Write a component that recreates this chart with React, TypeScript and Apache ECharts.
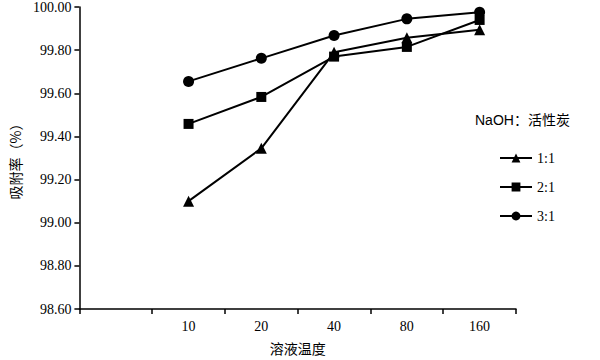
import React, { useEffect, useRef } from "react";
import * as echarts from "echarts";

const categories = ["", "10", "20", "40", "80", "160"];
const series11 = [null, 99.1, 99.345, 99.79, 99.857, 99.895];
const series21 = [null, 99.458, 99.583, 99.77, 99.815, 99.94];
const series31 = [null, 99.655, 99.762, 99.868, 99.945, 99.976];
const seriesNames = ["1:1", "2:1", "3:1"];
const symbols = ["triangle", "rect", "circle"];

export default function App() {
  const ref = useRef<HTMLDivElement>(null);
  useEffect(() => {
    const chart = echarts.init(ref.current!, null, { renderer: "svg" });
    const datasets = [series11, series21, series31];
    const serif = "'Liberation Serif', 'Times New Roman', serif";
    const cjk = "'Noto Sans CJK SC', sans-serif";
    chart.setOption({
      animation: false,
      backgroundColor: "#fff",
      grid: { left: 71, right: 84, top: 7, bottom: 49 },
      xAxis: {
        type: "category",
        data: categories,
        boundaryGap: true,
        axisLine: { lineStyle: { color: "#000", width: 1.5 } },
        axisTick: { show: true, inside: false, length: 5, lineStyle: { color: "#000", width: 1.5 } },
        axisLabel: { color: "#000", fontFamily: serif, fontSize: 14, margin: 10 },
        splitLine: { show: false },
        name: "溶液温度",
        nameLocation: "middle",
        nameGap: 32,
        nameTextStyle: { color: "#000", fontFamily: cjk, fontSize: 14 },
      },
      yAxis: {
        type: "value",
        min: 98.6,
        max: 100,
        interval: 0.2,
        axisLine: { show: true, lineStyle: { color: "#000", width: 1.5 } },
        axisTick: { show: true, inside: false, length: 5, lineStyle: { color: "#000", width: 1.5 } },
        axisLabel: {
          color: "#000",
          fontFamily: serif,
          fontSize: 14,
          margin: 8,
          formatter: (v: number) => v.toFixed(2),
        },
        splitLine: { show: false },
        name: "吸附率（%）",
        nameLocation: "middle",
        nameRotate: 90,
        nameGap: 46,
        nameTextStyle: { color: "#000", fontFamily: cjk, fontSize: 14 },
      },
      legend: {
        orient: "vertical",
        left: 494,
        top: 146,
        itemWidth: 32,
        itemHeight: 11,
        itemGap: 15,
        data: seriesNames,
        textStyle: { color: "#000", fontFamily: serif, fontSize: 14 },
      },
      graphic: [
        {
          type: "text",
          left: 475,
          top: 113,
          style: {
            text: "NaOH：活性炭",
            fill: "#000",
            font: "14px 'Liberation Sans', 'Noto Sans CJK SC', sans-serif",
          },
        },
      ],
      series: seriesNames.map((name, i) => ({
        name,
        type: "line",
        data: datasets[i],
        symbol: symbols[i],
        symbolSize: i === 1 ? 10 : 11,
        showAllSymbol: true,
        lineStyle: { color: "#000", width: 2 },
        itemStyle: { color: "#000" },
      })),
    });
    return () => chart.dispose();
  }, []);
  return <div ref={ref} style={{ width: 600, height: 360, position: "absolute", left: 0, top: 0 }} />;
}
